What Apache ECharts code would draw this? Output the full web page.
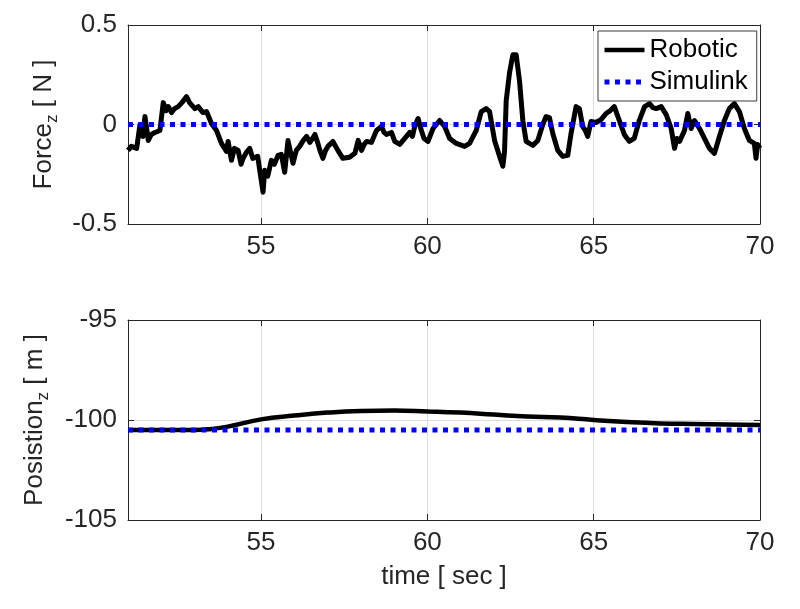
<!DOCTYPE html>
<html lang="en">
<head>
<meta charset="UTF-8">
<title>Force / Position</title>
<script src="https://cdn.jsdelivr.net/npm/echarts@6/dist/echarts.min.js"></script>
<style>
    html, body { margin: 0; padding: 0; background: #fff; }
    #chart { width: 800px; height: 609px; }
</style>
</head>
<body>
<div id="chart"></div>
<script>
// force trace
var forceTime = [51.00, 51.10, 51.26, 51.36, 51.45, 51.51, 51.61, 51.70, 51.81, 51.96,
    52.06, 52.15, 52.21, 52.31, 52.40, 52.51, 52.62, 52.76, 52.85, 52.91,
    53.01, 53.11, 53.25, 53.36, 53.51, 53.66, 53.81, 53.96, 54.01, 54.11,
    54.20, 54.31, 54.40, 54.46, 54.56, 54.66, 54.75, 54.81, 54.90, 54.96,
    55.06, 55.11, 55.20, 55.31, 55.40, 55.51, 55.61, 55.71, 55.81, 55.86,
    55.96, 56.06, 56.16, 56.27, 56.37, 56.47, 56.55, 56.62, 56.70, 56.77,
    56.86, 56.94, 57.01, 57.16, 57.31, 57.46, 57.66, 57.82, 57.92, 58.02,
    58.10, 58.17, 58.32, 58.47, 58.62, 58.70, 58.77, 58.92, 59.02, 59.17,
    59.32, 59.47, 59.55, 59.62, 59.72, 59.82, 59.90, 60.02, 60.17, 60.37,
    60.52, 60.67, 60.87, 61.12, 61.27, 61.47, 61.62, 61.77, 61.87, 62.02,
    62.17, 62.27, 62.32, 62.37, 62.47, 62.57, 62.67, 62.77, 62.87, 62.97,
    63.17, 63.32, 63.47, 63.57, 63.67, 63.77, 63.92, 64.07, 64.22, 64.32,
    64.47, 64.57, 64.67, 64.75, 64.82, 64.92, 65.07, 65.22, 65.37, 65.50,
    65.62, 65.77, 65.92, 66.07, 66.22, 66.37, 66.53, 66.68, 66.78, 66.88,
    67.03, 67.18, 67.33, 67.43, 67.50, 67.58, 67.73, 67.83, 67.93, 68.03,
    68.18, 68.33, 68.48, 68.63, 68.78, 68.93, 69.08, 69.23, 69.38, 69.53,
    69.68, 69.83, 69.88, 69.93, 70.00];
var forceRobotic = [-0.13, -0.11, -0.12, 0.00, -0.06, 0.04, -0.08, -0.05, -0.04, -0.03,
    0.11, 0.07, 0.09, 0.06, 0.08, 0.09, 0.11, 0.14, 0.11, 0.115,
    0.08, 0.09, 0.06, 0.065, 0.005, -0.03, -0.095, -0.135, -0.085, -0.18,
    -0.12, -0.13, -0.20, -0.17, -0.14, -0.12, -0.17, -0.18, -0.16, -0.23,
    -0.34, -0.23, -0.26, -0.18, -0.20, -0.155, -0.15, -0.24, -0.08, -0.12,
    -0.195, -0.13, -0.11, -0.08, -0.06, -0.09, -0.07, -0.05, -0.09, -0.13,
    -0.17, -0.13, -0.11, -0.085, -0.13, -0.17, -0.165, -0.145, -0.08, -0.13,
    -0.10, -0.085, -0.09, -0.03, -0.01, -0.04, -0.05, -0.04, -0.085, -0.10,
    -0.07, -0.04, -0.06, -0.01, 0.03, -0.03, -0.07, -0.085, -0.02, 0.02,
    -0.01, -0.07, -0.095, -0.11, -0.095, -0.03, 0.065, 0.08, 0.065, -0.08,
    -0.16, -0.21, -0.135, 0.12, 0.26, 0.35, 0.35, 0.22, 0.02, -0.085,
    -0.105, -0.08, 0.00, 0.04, 0.035, -0.045, -0.13, -0.16, -0.155, -0.045,
    0.09, 0.08, -0.01, -0.03, -0.06, 0.015, 0.01, 0.025, 0.055, 0.07,
    0.09, 0.02, -0.05, -0.085, -0.07, 0.02, 0.09, 0.105, 0.085, 0.08,
    0.09, 0.05, -0.02, -0.12, -0.07, -0.085, -0.03, 0.055, -0.02, 0.02,
    -0.02, -0.07, -0.12, -0.145, -0.06, 0.02, 0.08, 0.105, 0.065, -0.02,
    -0.08, -0.095, -0.17, -0.10, -0.12];
var forceSimulink = 0;

// position trace
var posTime = [51, 52, 53, 53.5, 54, 55, 56, 57, 58, 59, 60, 61, 62, 63, 64, 65, 66, 67, 68, 69, 70];
var posRobotic = [-100.5, -100.5, -100.5, -100.45, -100.33, -99.97, -99.78, -99.63, -99.55, -99.53,
    -99.57, -99.63, -99.73, -99.83, -99.88, -100.0, -100.1, -100.17, -100.2, -100.22, -100.25];
var posSimulink = -100.5;

var timeMin = 51, timeMax = 70;
var timeTicks = [55, 60, 65, 70];

function pairs(xs, ys) {
    var out = [];
    for (var i = 0; i < xs.length; i++) out.push([xs[i], ys[i]]);
    return out;
}

var ink = '#262626';
var font = 'Liberation Sans, Arial, sans-serif';
var solid = { color: '#000', width: 4.5, join: 'round' };
var dotted = { color: '#0000ff', width: 5, type: [5, 5.5], cap: 'butt' };

function xAx(grid, top, withLabels) {
    return {
        type: 'value', gridIndex: grid, min: timeMin, max: timeMax,
        position: top ? 'top' : 'bottom',
        axisLine: { show: true, onZero: false, lineStyle: { color: ink, width: 1 } },
        axisTick: { show: true, inside: true, length: 6, customValues: timeTicks, lineStyle: { color: ink } },
        axisLabel: { show: withLabels, customValues: timeTicks, color: ink, fontSize: 26, fontFamily: font, margin: 10 },
        splitLine: { show: !top, lineStyle: { color: '#dcdcdc', width: 1 } }
    };
}

function yAx(grid, right, min, max, step, name, gap) {
    var a = {
        type: 'value', gridIndex: grid, min: min, max: max, interval: step,
        position: right ? 'right' : 'left',
        axisLine: { show: true, onZero: false, lineStyle: { color: ink, width: 1 } },
        axisTick: { show: true, inside: true, length: 6, lineStyle: { color: ink } },
        axisLabel: { show: !right, color: ink, fontSize: 26, fontFamily: font, margin: 11 },
        splitLine: { show: !right, lineStyle: { color: '#dcdcdc', width: 1 } }
    };
    if (!right) {
        a.name = name;
        a.nameLocation = 'middle';
        a.nameRotate = 90;
        a.nameGap = gap;
        a.nameTextStyle = {
            color: ink, fontSize: 26, fontFamily: font,
            rich: {
                n: { color: ink, fontSize: 26, fontFamily: font, lineHeight: 34, verticalAlign: 'middle' },
                s: { color: ink, fontSize: 17, fontFamily: font, lineHeight: 34, verticalAlign: 'bottom' }
            }
        };
    }
    return a;
}

var chart = echarts.init(document.getElementById('chart'));
chart.setOption({
    animation: false,
    backgroundColor: '#fff',
    grid: [
        { left: 128, top: 25, width: 632, height: 199 },
        { left: 128, top: 320, width: 632, height: 200 }
    ],
    legend: {
        data: [
            { name: 'Robotic', itemStyle: { opacity: 0 }, lineStyle: solid },
            { name: 'Simulink', itemStyle: { opacity: 0 }, lineStyle: dotted }
        ],
        orient: 'vertical',
        left: 598, top: 31,
        itemWidth: 40, itemHeight: 14, itemGap: 6,
        padding: [6, 9, 6, 4],
        backgroundColor: '#fff',
        borderColor: '#3a3a3a', borderWidth: 1, borderRadius: 0,
        textStyle: { color: '#000', fontSize: 26, fontFamily: font }
    },
    xAxis: [
        xAx(0, false, true),
        xAx(0, true, false),
        Object.assign(xAx(1, false, true), {
            name: 'time [ sec ]', nameLocation: 'middle', nameGap: 44,
            nameTextStyle: { color: ink, fontSize: 26, fontFamily: font }
        }),
        xAx(1, true, false)
    ],
    yAxis: [
        yAx(0, false, -0.5, 0.5, 0.5, '{n|Force}{s|z}{n| [ N ]}', 66),
        yAx(0, true, -0.5, 0.5, 0.5),
        yAx(1, false, -105, -95, 5, '{n|Posistion}{s|z}{n| [ m ]}', 76),
        yAx(1, true, -105, -95, 5)
    ],
    series: [
        {
            name: 'Robotic', type: 'line', xAxisIndex: 0, yAxisIndex: 0,
            data: pairs(forceTime, forceRobotic), symbol: 'none',
            itemStyle: { color: '#000' },
            lineStyle: { color: '#000', width: 5, join: 'round' }, z: 3
        },
        {
            name: 'Simulink', type: 'line', xAxisIndex: 0, yAxisIndex: 0,
            data: [[timeMin, forceSimulink], [timeMax, forceSimulink]], symbol: 'none',
            itemStyle: { color: '#0000ff' },
            lineStyle: dotted, z: 4
        },
        {
            name: 'Robotic', type: 'line', xAxisIndex: 2, yAxisIndex: 2,
            data: pairs(posTime, posRobotic), symbol: 'none', smooth: true,
            itemStyle: { color: '#000' },
            lineStyle: solid, z: 3
        },
        {
            name: 'Simulink', type: 'line', xAxisIndex: 2, yAxisIndex: 2,
            data: [[timeMin, posSimulink], [timeMax, posSimulink]], symbol: 'none',
            itemStyle: { color: '#0000ff' },
            lineStyle: dotted, z: 4
        }
    ]
});
</script>
</body>
</html>
